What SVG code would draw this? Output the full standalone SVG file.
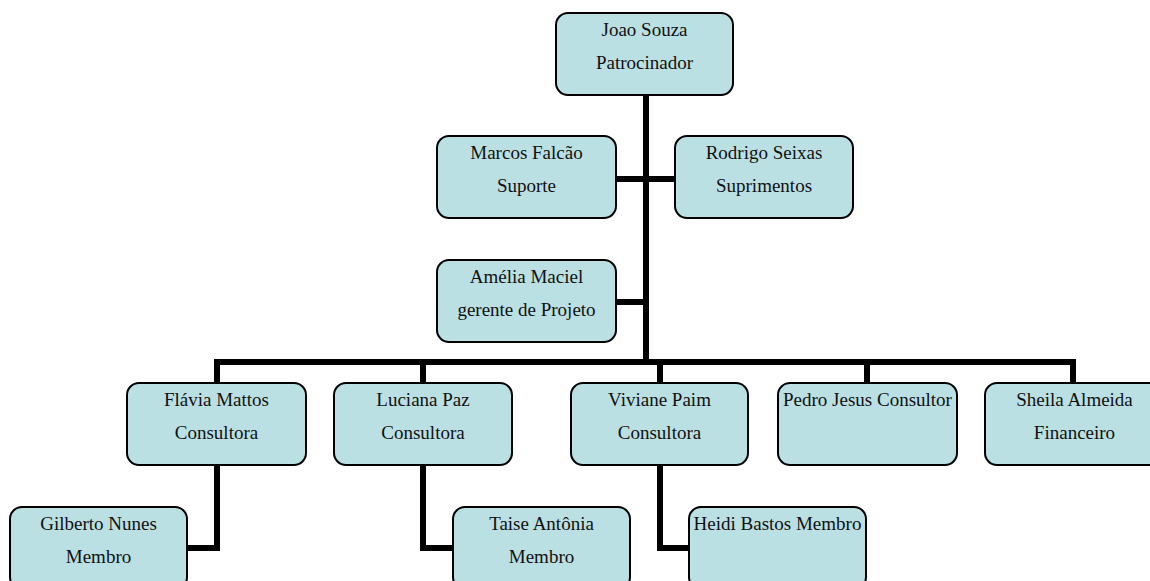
<svg xmlns="http://www.w3.org/2000/svg" width="1150" height="581" viewBox="0 0 1150 581">
  <style>
    .box { fill: #bbe0e3; stroke: #000; stroke-width: 2; }
    .lbl { font-family: "Liberation Serif", "Times New Roman", serif; font-size: 19px; fill: #111; text-anchor: middle; }
    .wire { fill: none; stroke: #000; stroke-width: 6; stroke-linejoin: miter; stroke-linecap: butt; }
  </style>
  <rect width="1150" height="581" fill="#fff"/>

  <!-- connectors -->
  <g id="connectors">
    <path class="wire" d="M646,95 V362"/>
    <path class="wire" d="M616,179 H675"/>
    <path class="wire" d="M616,302 H646"/>
    <path class="wire" d="M217,383 V362 H1073 V383"/>
    <path class="wire" d="M423,362 V383"/>
    <path class="wire" d="M660,362 V383"/>
    <path class="wire" d="M867,362 V383"/>
    <path class="wire" d="M217,465 V548 H187"/>
    <path class="wire" d="M423,465 V548 H453"/>
    <path class="wire" d="M660,465 V548 H689"/>
  </g>

  <g id="joao">
    <rect class="box" x="556" y="13" width="177" height="82" rx="12"/>
    <text class="lbl" x="644.5" y="36">Joao Souza</text>
    <text class="lbl" x="644.5" y="69">Patrocinador</text>
  </g>
  <g id="marcos">
    <rect class="box" x="437" y="136" width="179" height="82" rx="12"/>
    <text class="lbl" x="526.5" y="159">Marcos Falcão</text>
    <text class="lbl" x="526.5" y="192">Suporte</text>
  </g>
  <g id="rodrigo">
    <rect class="box" x="675" y="136" width="178" height="82" rx="12"/>
    <text class="lbl" x="764" y="159">Rodrigo Seixas</text>
    <text class="lbl" x="764" y="192">Suprimentos</text>
  </g>
  <g id="amelia">
    <rect class="box" x="437" y="260" width="179" height="82" rx="12"/>
    <text class="lbl" x="526.5" y="283">Amélia Maciel</text>
    <text class="lbl" x="526.5" y="316">gerente de Projeto</text>
  </g>
  <g id="flavia">
    <rect class="box" x="127" y="383" width="179" height="82" rx="12"/>
    <text class="lbl" x="216.5" y="406">Flávia Mattos</text>
    <text class="lbl" x="216.5" y="439">Consultora</text>
  </g>
  <g id="luciana">
    <rect class="box" x="334" y="383" width="178" height="82" rx="12"/>
    <text class="lbl" x="423" y="406">Luciana Paz</text>
    <text class="lbl" x="423" y="439">Consultora</text>
  </g>
  <g id="viviane">
    <rect class="box" x="571" y="383" width="177" height="82" rx="12"/>
    <text class="lbl" x="659.5" y="406">Viviane Paim</text>
    <text class="lbl" x="659.5" y="439">Consultora</text>
  </g>
  <g id="pedro">
    <rect class="box" x="778" y="383" width="179" height="82" rx="12"/>
    <text class="lbl" x="867.5" y="406">Pedro Jesus Consultor</text>
  </g>
  <g id="sheila">
    <rect class="box" x="985" y="383" width="179" height="82" rx="12"/>
    <text class="lbl" x="1074.5" y="406">Sheila Almeida</text>
    <text class="lbl" x="1074.5" y="439">Financeiro</text>
  </g>
  <g id="gilberto">
    <rect class="box" x="10" y="507" width="177" height="82" rx="12"/>
    <text class="lbl" x="98.5" y="530">Gilberto Nunes</text>
    <text class="lbl" x="98.5" y="563">Membro</text>
  </g>
  <g id="taise">
    <rect class="box" x="453" y="507" width="177" height="82" rx="12"/>
    <text class="lbl" x="541.5" y="530">Taise Antônia</text>
    <text class="lbl" x="541.5" y="563">Membro</text>
  </g>
  <g id="heidi">
    <rect class="box" x="689" y="507" width="177" height="82" rx="12"/>
    <text class="lbl" x="777.5" y="530">Heidi Bastos Membro</text>
  </g>
</svg>
